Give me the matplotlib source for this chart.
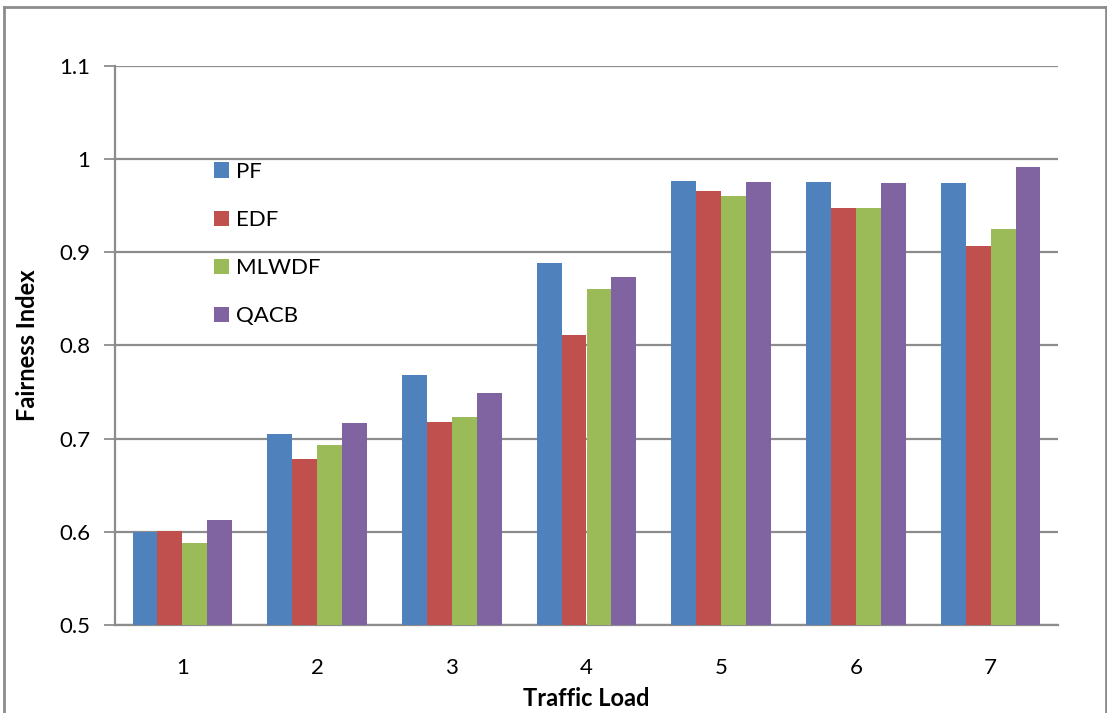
import matplotlib
matplotlib.use("Agg")
import matplotlib.pyplot as plt
from matplotlib.patches import Patch
from matplotlib.lines import Line2D
import numpy as np

plt.rcParams['font.family'] = ['Lato', 'DejaVu Sans']

loads = [1, 2, 3, 4, 5, 6, 7]
series_names = ["PF", "EDF", "MLWDF", "QACB"]
pf = [0.600, 0.705, 0.768, 0.889, 0.977, 0.975, 0.974]
edf = [0.601, 0.678, 0.718, 0.811, 0.966, 0.948, 0.907]
mlwdf = [0.588, 0.693, 0.723, 0.861, 0.961, 0.948, 0.925]
qacb = [0.613, 0.717, 0.749, 0.873, 0.976, 0.974, 0.992]
y_ticks = [0.5, 0.6, 0.7, 0.8, 0.9, 1.0, 1.1]
y_tick_labels = ["0.5", "0.6", "0.7", "0.8", "0.9", "1", "1.1"]

colors = ["#4F81BD", "#C0504D", "#9BBB59", "#8064A2"]
grid_color = "#8C8C8C"

W, H = 1107, 713
fig = plt.figure(figsize=(W / 100, H / 100), dpi=100)
ax = fig.add_axes([115 / W, 1 - 625 / H, (1058 - 115) / W, (625 - 66) / H])

x = np.arange(len(loads))
bw = 0.185
for i, (vals, c) in enumerate(zip([pf, edf, mlwdf, qacb], colors)):
    ax.bar(x + (i - 1.5) * bw, vals, width=bw, color=c, label=series_names[i],
           zorder=3, linewidth=0)

ax.set_xlim(-0.5, len(loads) - 0.5)
ax.set_ylim(0.5, 1.1)
ax.set_yticks(y_ticks)
ax.set_yticklabels(y_tick_labels)
ax.set_xticks(x)
ax.set_xticklabels([str(v) for v in loads])
ax.yaxis.grid(True, color=grid_color, linewidth=1.6, zorder=0)
ax.set_axisbelow(True)

for s in ["top", "right"]:
    ax.spines[s].set_visible(False)
for s in ["left", "bottom"]:
    ax.spines[s].set_color(grid_color)
    ax.spines[s].set_linewidth(1.6)

ax.tick_params(axis="y", length=8, width=1.3, color=grid_color, labelsize=16, pad=10)
ax.tick_params(axis="x", length=0, labelsize=16, pad=24)

ax.set_xlabel("Traffic Load", fontsize=17, fontweight="bold", labelpad=6)
ax.set_ylabel("Fairness Index", fontsize=17, fontweight="bold", labelpad=14)

handles = [Patch(facecolor=c, edgecolor="none") for c in colors]
ax.legend(handles, series_names, loc="upper left",
          bbox_to_anchor=(196 / W, 1 - 144 / H), bbox_transform=fig.transFigure,
          frameon=False, fontsize=16, labelspacing=1.27,
          handlelength=0.68, handleheight=0.68, handletextpad=0.3,
          borderpad=0.3)

# outer chart border
for xs, ys in [([4, 1106], [7, 7]), ([4, 4], [7, 713]), ([1106, 1106], [7, 713])]:
    fig.add_artist(Line2D([v / W for v in xs], [1 - v / H for v in ys],
                          color=grid_color, linewidth=2, transform=fig.transFigure))

fig.savefig("out.png", dpi=100, facecolor="white")
